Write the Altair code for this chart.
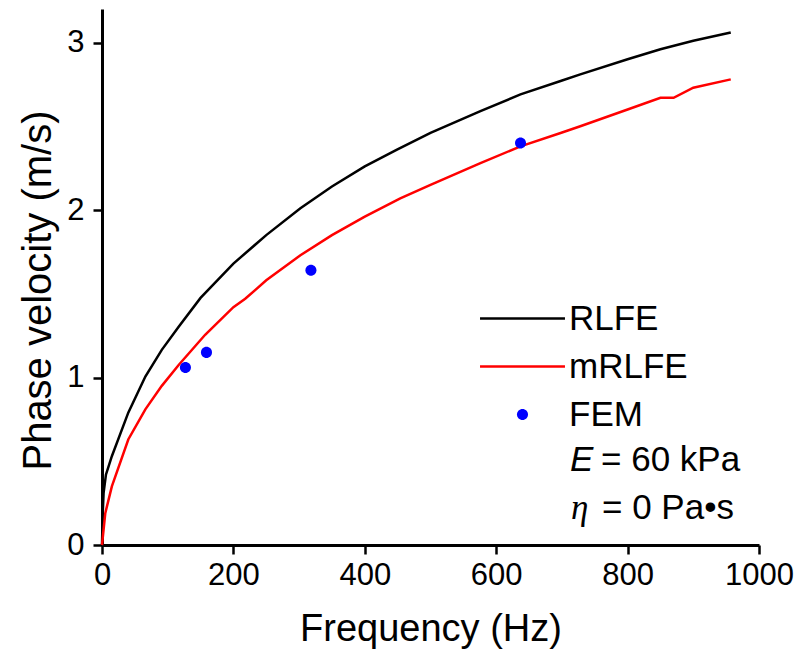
import altair as alt
import pandas as pd

# ---- data ----
rlfe_f = [0, 1, 2.4, 6, 15, 40, 66, 91, 117, 150, 200, 250, 302, 350, 400, 449, 500, 576, 637, 698, 728, 800, 850, 900, 957]
rlfe_v = [0, 0.18, 0.31, 0.42, 0.53, 0.79, 1.006, 1.165, 1.305, 1.475, 1.68, 1.85, 2.01, 2.14, 2.26, 2.36, 2.46, 2.59, 2.69, 2.77, 2.81, 2.90, 2.96, 3.01, 3.06]

mrlfe_f = [0, 5, 15, 40, 66, 91, 117, 157, 200, 218, 250, 302, 350, 400, 454, 500, 576, 637, 698, 728, 800, 850, 870, 900, 957]
mrlfe_v = [0, 0.19, 0.35, 0.63, 0.81, 0.95, 1.076, 1.255, 1.42, 1.47, 1.58, 1.73, 1.85, 1.96, 2.07, 2.15, 2.28, 2.38, 2.46, 2.50, 2.60, 2.67, 2.67, 2.73, 2.78]

fem_f = [127, 159, 318, 637]
fem_v = [1.06, 1.15, 1.64, 2.40]

series_names = ["RLFE", "mRLFE", "FEM"]
series_colors = ["#000000", "#ff0000", "#0000ff"]
x_ticks = [0, 200, 400, 600, 800, 1000]
y_ticks = [0, 1, 2, 3]
ann_text = ["E", "= 60 kPa", "\u03b7", "= 0 Pa\u2022s"]

FONT = "Liberation Sans"

rlfe = pd.DataFrame({"f": rlfe_f, "v": rlfe_v})
mrlfe = pd.DataFrame({"f": mrlfe_f, "v": mrlfe_v})
fem = pd.DataFrame({"f": fem_f, "v": fem_v, "series": ["FEM"] * len(fem_f)})

x_enc = alt.X(
    "f:Q",
    scale=alt.Scale(domain=[0, 1000], nice=False),
    axis=alt.Axis(
        values=x_ticks, format="d", title="Frequency (Hz)", grid=False, labelFlush=False,
        labelFontSize=31, labelPadding=6, tickSize=9, tickWidth=2.5,
        domainWidth=3, domainColor="black", tickColor="black", labelColor="black",
        titleFontSize=38, titleFontWeight="normal", titleColor="black",
        titleY=95, titleBaseline="alphabetic",
    ),
)
y_enc = alt.Y(
    "v:Q",
    scale=alt.Scale(domain=[0, 3.2], nice=False),
    axis=alt.Axis(
        values=y_ticks, format="d", title="Phase velocity (m/s)", grid=False, labelFlush=False,
        labelFontSize=31, labelPadding=9, tickSize=9, tickWidth=2.5,
        domainWidth=3, domainColor="black", tickColor="black", labelColor="black",
        titleFontSize=40, titleFontWeight="normal", titleColor="black",
        titleX=-52, titleY=281, titleBaseline="alphabetic", titleAlign="center",
    ),
)

line_black = alt.Chart(rlfe).mark_line(strokeWidth=2.5, color=series_colors[0]).encode(x=x_enc, y=y_enc)
line_red = alt.Chart(mrlfe).mark_line(strokeWidth=2.5, color=series_colors[1]).encode(x="f:Q", y="v:Q")

# legend symbols: a thin filled bar for the curves, a dot for FEM
bar_path = "M-4,-0.12H4V0.12H-4Z"
dot_path = "M0.52,0A0.52,0.52,0,1,1,-0.52,0A0.52,0.52,0,1,1,0.52,0Z"

def make_leg():
    return alt.Legend(
        orient="none", legendX=403, legendY=292, title=None,
        labelFontSize=35, labelFont=FONT, labelColor="black",
        symbolSize=451, symbolStrokeWidth=0,
        labelOffset=29, rowPadding=12, padding=0,
    )

points = alt.Chart(fem).mark_point(filled=True, size=451, opacity=1, strokeWidth=0).encode(
    x="f:Q", y="v:Q",
    color=alt.Color("series:N", scale=alt.Scale(domain=series_names, range=series_colors), legend=make_leg()),
    shape=alt.Shape("series:N", scale=alt.Scale(domain=series_names, range=[bar_path, bar_path, dot_path]), legend=make_leg()),
)

ann = pd.DataFrame({"t": ann_text})

def text_layer(i, xpos, ypos, font, style):
    return alt.Chart(ann.iloc[[i]]).mark_text(
        font=font, fontStyle=style, fontSize=35, align="left", baseline="alphabetic", color="black"
    ).encode(text="t:N", x=alt.value(xpos), y=alt.value(ypos))

t1 = text_layer(0, 468, 462, FONT, "italic")
t2 = text_layer(1, 499, 462, FONT, "normal")
t3 = text_layer(2, 469, 510, "Liberation Serif", "italic")
t4 = text_layer(3, 500, 510, FONT, "normal")

chart = alt.layer(line_black, line_red, points, t1, t2, t3, t4).properties(
    width=657, height=536,
    padding={"left": 94, "top": 1, "right": 35, "bottom": 107},
    autosize=alt.AutoSizeParams(type="none"),
).configure(font=FONT).configure_view(stroke=None).configure_axis(labelFont=FONT, titleFont=FONT)

chart.save("out.html", embed_options={"renderer": "svg", "actions": False})
